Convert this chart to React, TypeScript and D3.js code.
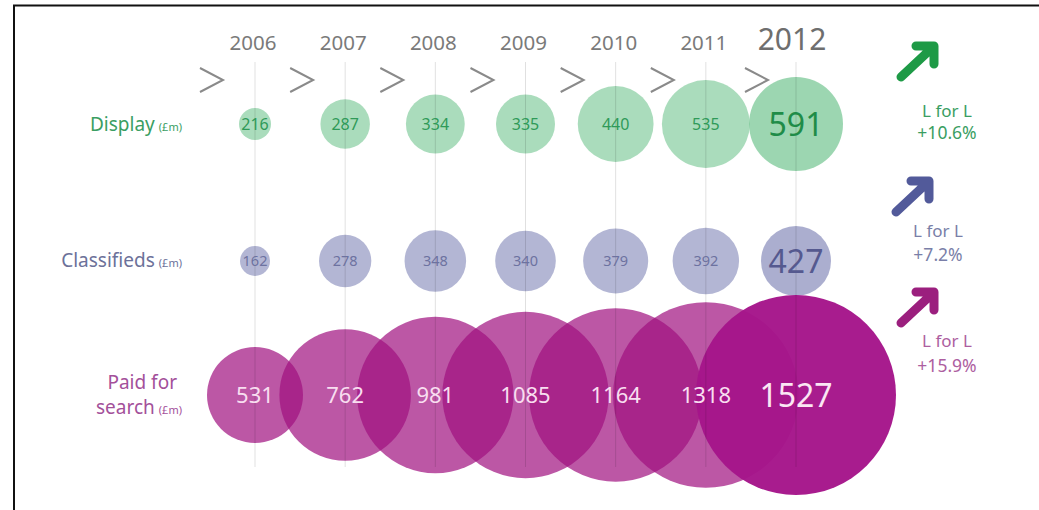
import React from "react";
import * as d3 from "d3";

const years = [2006, 2007, 2008, 2009, 2010, 2011, 2012];
const displayValues = [216, 287, 334, 335, 440, 535, 591];
const classifiedsValues = [162, 278, 348, 340, 379, 392, 427];
const searchValues = [531, 762, 981, 1085, 1164, 1318, 1527];
const rowNames = ["Display", "Classifieds", "Paid for search"];
const unitLabel = "(£m)";
const lflLabel = "L for L";
const lflChanges = ["+10.6%", "+7.2%", "+15.9%"];

const W = 1039;
const H = 510;
const FONT = "'Noto Sans', 'Open Sans', sans-serif";

const x = d3.scaleLinear().domain([2006, 2012]).range([255, 796]);

type Row = {
  values: number[];
  cy: number;
  r: d3.ScaleLogarithmic<number, number>;
  fill: string;
  opacity: number;
  lastFill: string;
  lastOpacity: number;
  text: string;
  lastText: string;
  fontSize: number;
  lastFontSize: number;
};

const rows: Row[] = [
  {
    values: displayValues,
    cy: 124,
    r: d3.scaleLog().domain([d3.min(displayValues)!, d3.max(displayValues)!]).range([16, 47]),
    fill: "#72c490",
    opacity: 0.6,
    lastFill: "#72c490",
    lastOpacity: 0.7,
    text: "#2f9a58",
    lastText: "#1f8c48",
    fontSize: 16,
    lastFontSize: 32,
  },
  {
    values: classifiedsValues,
    cy: 261,
    r: d3.scaleLog().domain([d3.min(classifiedsValues)!, d3.max(classifiedsValues)!]).range([15, 35]),
    fill: "#8a8fbd",
    opacity: 0.65,
    lastFill: "#8a8fbd",
    lastOpacity: 0.72,
    text: "#6d72a0",
    lastText: "#55598f",
    fontSize: 14.5,
    lastFontSize: 32,
  },
  {
    values: searchValues,
    cy: 395,
    r: d3.scaleLog().domain([d3.min(searchValues)!, d3.max(searchValues)!]).range([48, 100]),
    fill: "#a0107f",
    opacity: 0.7,
    lastFill: "#a5158a",
    lastOpacity: 0.97,
    text: "#f8def0",
    lastText: "#fbe6f4",
    fontSize: 22,
    lastFontSize: 32,
  },
];

const labelColors = ["#3a9e62", "#6c7199", "#a3509a"];
const arrowColors = ["#1e9a46", "#525a9a", "#9b1f7e"];
const lflTextColors = ["#3a9e62", "#7a7fa8", "#ad5ea0"];
const arrowAnchors = [
  { x: 934, y: 46 },
  { x: 929, y: 181 },
  { x: 934, y: 292 },
];
const lflText = [
  { x: 947, y1: 117, y2: 139 },
  { x: 938, y1: 237, y2: 261 },
  { x: 947, y1: 347, y2: 372 },
];

function Arrow({ ax, ay, color }: { ax: number; ay: number; color: string }) {
  const d = `M${ax - 33},${ay + 31} L${ax - 2},${ay + 2} M${ax - 18},${ay} L${ax},${ay} L${ax},${ay + 18}`;
  return (
    <path d={d} fill="none" stroke={color} strokeWidth={9} strokeLinecap="round" strokeLinejoin="round" />
  );
}

export default function App() {
  const last = years.length - 1;
  const [paid, forWord, search] = rowNames[2].split(" ");
  return (
    <svg
      width={W}
      height={H}
      viewBox={`0 0 ${W} ${H}`}
      style={{ position: "absolute", left: 0, top: 0, background: "#fff" }}
      fontFamily={FONT}
    >
      <rect x={0} y={0} width={W} height={H} fill="#fff" />
      <rect x={14} y={5.5} width={W + 50} height={H + 50} fill="none" stroke="#111" strokeWidth={2} />

      {/* year labels */}
      {years.map((yr, i) => (
        <text
          key={"y" + yr}
          x={x(yr) - (i === last ? 4 : 2)}
          y={50}
          textAnchor="middle"
          fontSize={i === last ? 30 : 20.5}
          fill={i === last ? "#6e6e6e" : "#7a7a7a"}
        >
          {yr}
        </text>
      ))}

      {/* chevrons */}
      {years.map((yr, i) => {
        const cx = x(yr);
        const dx = i === last ? 51 : 55;
        return (
          <path
            key={"c" + yr}
            d={`M${cx - dx},${68} L${cx - dx + 23},${80} L${cx - dx},${92}`}
            fill="none"
            stroke="#8a8a8a"
            strokeWidth={2}
          />
        );
      })}

      {/* circles */}
      {rows.map((row, ri) => (
        <g key={"row" + ri}>
          {row.values.map((v, i) => (
            <circle
              key={i}
              cx={x(years[i])}
              cy={row.cy}
              r={row.r(v)}
              fill={i === last ? row.lastFill : row.fill}
              fillOpacity={i === last ? row.lastOpacity : row.opacity}
            />
          ))}
        </g>
      ))}

      {/* vertical guide lines */}
      {years.map((yr) => (
        <line
          key={"l" + yr}
          x1={x(yr)}
          x2={x(yr)}
          y1={62}
          y2={467}
          stroke="#000"
          strokeOpacity={0.12}
          strokeWidth={1}
        />
      ))}

      {/* value labels */}
      {rows.map((row, ri) => (
        <g key={"vl" + ri}>
          {row.values.map((v, i) => (
            <text
              key={i}
              x={x(years[i])}
              y={row.cy}
              dy="0.36em"
              textAnchor="middle"
              fontSize={i === last ? row.lastFontSize : row.fontSize}
              fill={i === last ? row.lastText : row.text}
            >
              {v}
            </text>
          ))}
        </g>
      ))}

      {/* row labels */}
      <text x={182} y={131} textAnchor="end" fill={labelColors[0]} fontSize={19}>
        {rowNames[0]}
        <tspan fontSize={11} dx={4}>{unitLabel}</tspan>
      </text>
      <text x={182} y={267} textAnchor="end" fill={labelColors[1]} fontSize={19}>
        {rowNames[1]}
        <tspan fontSize={11} dx={4}>{unitLabel}</tspan>
      </text>
      <text x={177} y={389} textAnchor="end" fill={labelColors[2]} fontSize={19}>
        {paid} {forWord}
      </text>
      <text x={182} y={414} textAnchor="end" fill={labelColors[2]} fontSize={19}>
        {search}
        <tspan fontSize={11} dx={4}>{unitLabel}</tspan>
      </text>

      {/* right-hand arrows & like-for-like */}
      {lflChanges.map((c, i) => (
        <g key={"lfl" + i}>
          <Arrow ax={arrowAnchors[i].x} ay={arrowAnchors[i].y} color={arrowColors[i]} />
          <text x={lflText[i].x} y={lflText[i].y1} textAnchor="middle" fontSize={17} fill={lflTextColors[i]}>
            {lflLabel}
          </text>
          <text x={lflText[i].x} y={lflText[i].y2} textAnchor="middle" fontSize={17.5} fill={lflTextColors[i]}>
            {c}
          </text>
        </g>
      ))}
    </svg>
  );
}
